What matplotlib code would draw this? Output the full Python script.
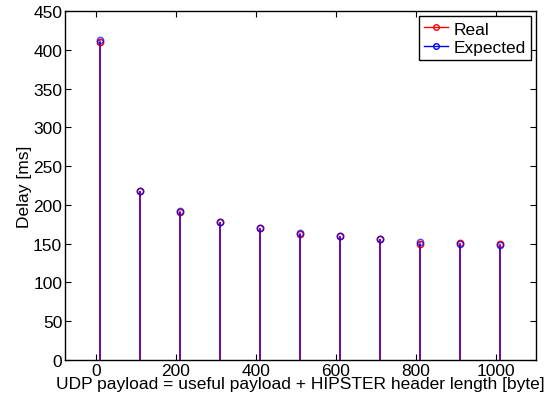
import numpy as np
import matplotlib
matplotlib.use("Agg")
import matplotlib.pyplot as plt
from matplotlib.lines import Line2D

plt.rcParams['font.family'] = ['Liberation Sans', 'DejaVu Sans']

# UDP payload sizes [byte] and measured / expected delays [ms]
payload = [10, 110, 210, 310, 410, 510, 610, 710, 810, 910, 1010]
delay_real = [410, 218, 191, 178, 170, 162, 160, 156, 150, 151, 150]
delay_expected = [413, 218, 192, 178, 170, 164, 160, 156, 152, 150, 148]

FS = 12.5

fig = plt.figure(figsize=(5.5, 4.02), dpi=100)
ax = fig.add_axes([65 / 550, 1 - 361 / 402, 471 / 550, 349 / 402])

for y, col, a in [(delay_real, 'red', 1.0), (delay_expected, 'blue', 0.7)]:
    ax.vlines(payload, 0, y, colors=col, linewidth=1.2, alpha=a)
    ax.plot(payload, y, 'o', color=col, markerfacecolor='none',
            markersize=4.5, markeredgewidth=1.1, alpha=a)

ax.set_xlim(-77, 1101)
ax.set_ylim(0, 450)
ax.set_xticks(np.arange(0, 1001, 200))
ax.set_yticks(np.arange(0, 451, 50))
ax.tick_params(direction='in', top=True, right=True, labelsize=FS,
               length=4, pad=2)
for s in ax.spines.values():
    s.set_linewidth(1.0)

ax.set_xlabel('UDP payload = useful payload + HIPSTER header length [byte]',
              fontsize=FS, labelpad=-1)
ax.set_ylabel('Delay [ms]', fontsize=FS, labelpad=1)

handles = [Line2D([0, 1], [0, 0], color='red', marker='o', markevery=[1],
                  markerfacecolor='none', markersize=4, linewidth=1),
           Line2D([0, 1], [0, 0], color='blue', marker='o', markevery=[1],
                  markerfacecolor='none', markersize=4, linewidth=1)]
leg = ax.legend(handles, ['Real', 'Expected'], loc='upper right',
                fontsize=FS, fancybox=False, edgecolor='black',
                handlelength=1.4, handletextpad=0.3, borderpad=0.3,
                labelspacing=0.2, borderaxespad=0.3, framealpha=1)
leg.get_frame().set_linewidth(1.0)

fig.savefig('out.png', dpi=100)
